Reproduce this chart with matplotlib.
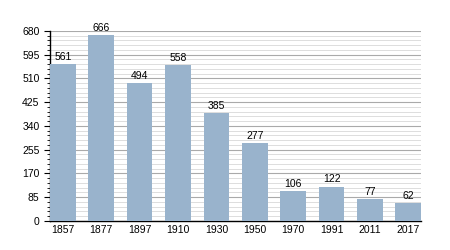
import matplotlib.pyplot as plt
import numpy as np
from matplotlib.ticker import MultipleLocator

plt.rcParams['font.family'] = ['Liberation Sans', 'DejaVu Sans']

years = ["1857", "1877", "1897", "1910", "1930", "1950", "1970", "1991", "2011", "2017"]
population = [561, 666, 494, 558, 385, 277, 106, 122, 77, 62]

fig = plt.figure(figsize=(4.5, 2.5), dpi=100)
ax = fig.add_axes([0.111, 0.117, 0.825, 0.759])

x = np.arange(len(years))
w = 0.67
ax.bar(x, population, width=w, color="#99b3cc", zorder=3)

for xi, v in zip(x, population):
    ax.text(xi, v + 8, str(v), ha="center", va="bottom", fontsize=7.5, zorder=4)

ax.set_xlim(-w / 2, len(years) - 1 + w / 2)
ax.set_ylim(0, 680)
ax.set_xticks(x)
ax.set_xticklabels(years, fontsize=7.5)
ax.yaxis.set_major_locator(MultipleLocator(85))
ax.yaxis.set_minor_locator(MultipleLocator(17))
ax.tick_params(axis="y", which="major", labelsize=7.5, length=4, width=0.8)
ax.tick_params(axis="y", which="minor", length=2, width=0.6)
ax.tick_params(axis="x", length=0, pad=3)

ax.grid(axis="y", which="major", color="#aaaaaa", linewidth=0.8, zorder=0)
ax.grid(axis="y", which="minor", color="#dddddd", linewidth=0.7, zorder=0)
ax.set_axisbelow(True)

for s in ["top", "right"]:
    ax.spines[s].set_visible(False)
ax.spines["left"].set_linewidth(1)
ax.spines["bottom"].set_linewidth(1)

fig.savefig("out.png", dpi=100)
